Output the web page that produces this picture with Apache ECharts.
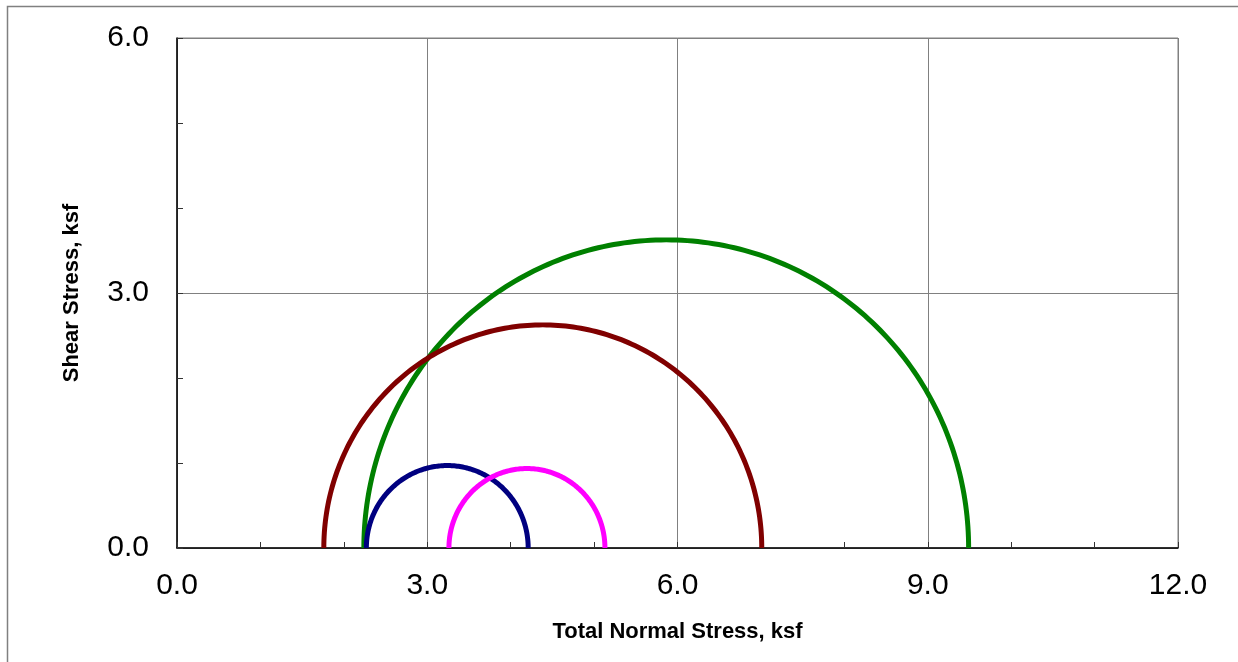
<!DOCTYPE html>
<html>
<head>
<meta charset="utf-8">
<script src="https://cdn.jsdelivr.net/npm/echarts@6/dist/echarts.min.js"></script>
<style>
html,body{margin:0;padding:0;background:#fff;}
#chart{width:1238px;height:662px;}
</style>
</head>
<body>
<div id="chart"></div>
<script>
// Mohr circles: minor and major principal stresses (ksf)
const circleNames = ['Test A', 'Test B', 'Test C', 'Test D'];
const sigma3 = [2.24, 1.76, 2.27, 3.26];
const sigma1 = [9.49, 7.01, 4.21, 5.13];
const circleColors = ['#008000', '#800000', '#000080', '#FF00FF'];
const xTicks = [0, 3, 6, 9, 12];
const yTicks = [0, 3, 6];

const chart = echarts.init(document.getElementById('chart'));

function mohrRender(params, api) {
  const s3 = api.value(0), s1 = api.value(1);
  const c = (s1 + s3) / 2, r = (s1 - s3) / 2;
  const pts = [];
  const n = 180;
  for (let i = 0; i <= n; i++) {
    const t = Math.PI * i / n;
    pts.push(api.coord([c - r * Math.cos(t), r * Math.sin(t)]));
  }
  return {
    type: 'polyline',
    shape: { points: pts },
    style: { stroke: api.visual('color'), fill: null, lineWidth: 5, lineJoin: 'round' }
  };
}

const series = circleNames.map((name, i) => ({
  type: 'custom',
  name: name,
  renderItem: mohrRender,
  data: [[sigma3[i], sigma1[i]]],
  encode: { x: [0, 1], y: [] },
  itemStyle: { color: circleColors[i] },
  clip: false,
  silent: true
}));

chart.setOption({
  animation: false,
  backgroundColor: '#fff',
  graphic: [{
    type: 'rect', left: 5, top: 4, z: -1,
    shape: { width: 1300, height: 720 },
    style: { fill: null, stroke: '#808080', lineWidth: 1.5 }
  }],
  grid: {
    left: 177, right: 60, top: 38, bottom: 114,
    show: true, borderColor: '#808080', borderWidth: 1
  },
  xAxis: {
    type: 'value', min: xTicks[0], max: xTicks[xTicks.length - 1], interval: 3,
    name: 'Total Normal Stress, ksf', nameLocation: 'middle', nameGap: 73,
    nameTextStyle: { fontFamily: 'Liberation Sans, Arial', fontSize: 22, fontWeight: 'bold', color: '#000' },
    axisLine: { onZero: false, lineStyle: { color: '#000', width: 1.5 } },
    axisTick: { inside: true, length: 6, lineStyle: { color: '#333' } },
    minorTick: { show: true, splitNumber: 3, length: 6, lineStyle: { color: '#333' } },
    axisLabel: { margin: 23, fontFamily: 'Liberation Sans, Arial', fontSize: 30, color: '#000',
      formatter: v => v.toFixed(1) },
    splitLine: { show: true, lineStyle: { color: '#808080', width: 1 } }
  },
  yAxis: {
    type: 'value', min: yTicks[0], max: yTicks[yTicks.length - 1], interval: 3,
    name: 'Shear Stress, ksf', nameLocation: 'middle', nameGap: 94, nameRotate: 90,
    nameTextStyle: { fontFamily: 'Liberation Sans, Arial', fontSize: 22, fontWeight: 'bold', color: '#000' },
    axisLine: { show: true, onZero: false, lineStyle: { color: '#000', width: 1.5 } },
    axisTick: { show: true, inside: true, length: 6, lineStyle: { color: '#333' } },
    minorTick: { show: true, splitNumber: 3, length: 6, lineStyle: { color: '#333' } },
    axisLabel: { margin: 28, fontFamily: 'Liberation Sans, Arial', fontSize: 30, color: '#000',
      formatter: v => v.toFixed(1) },
    splitLine: { show: true, lineStyle: { color: '#808080', width: 1 } }
  },
  series: series
});
</script>
</body>
</html>
